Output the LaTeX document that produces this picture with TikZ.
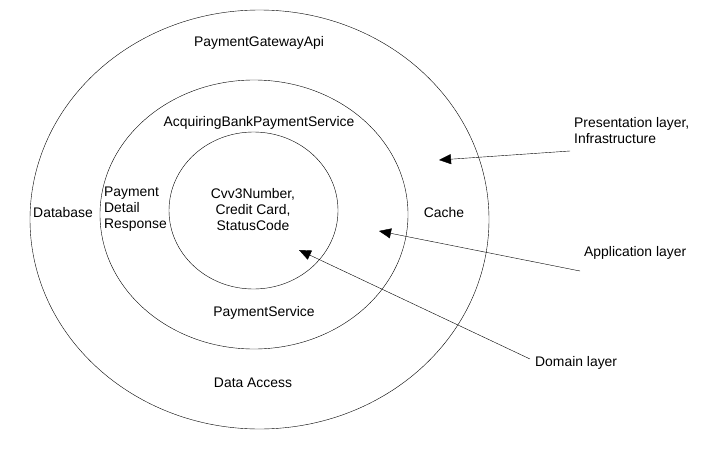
\documentclass[tikz,border=0pt]{standalone}
\usepackage{fontspec}
\setmainfont{Liberation Sans}
\usetikzlibrary{shapes.geometric,arrows.meta}

\tikzset{
  ring/.style={draw,ellipse,thin,inner sep=0pt},
  txt/.style={inner sep=0pt,align=center,font=\fontsize{13.9pt}{16pt}\selectfont},
  layer/.style={txt,align=left,anchor=west},
  pointer/.style={thin,-{Triangle[length=12pt,width=10pt]}}
}

\begin{document}
\begin{tikzpicture}[x=1pt,y=-1pt]
    \useasboundingbox (0,0) rectangle (706,452);
    % the three rings
    \node[ring,minimum width=459pt,minimum height=419pt] (outer) at (259.5,219.5) {};
    \node[ring,minimum width=308pt,minimum height=269pt] (middle) at (254,214.5) {};
    \node[ring,minimum width=169pt,minimum height=157pt] (inner) at (253.5,210.5) {};

    % texts inside the rings
    \node[txt] (api) at (259,43) {PaymentGatewayApi};
    \node[txt] (bank) at (259,123) {AcquiringBankPaymentService};
    \node[txt] (db) at (63,213) {Database};
    \node[txt] (cache) at (444,213) {Cache};
    \node[txt,align=left,anchor=west] (resp) at (104,209) {Payment\\Detail\\Response};
    \node[txt] (core) at (253,210) {Cvv3Number,\\Credit Card,\\StatusCode};
    \node[txt] (svc) at (264,313) {PaymentService};
    \node[txt] (access) at (253,383) {Data Access};

    % layer labels
    \node[layer] (pres) at (574,131) {Presentation layer,\\Infrastructure};
    \node[layer] (app) at (584,253) {Application layer};
    \node[layer] (dom) at (535,363) {Domain layer};

    \coordinate (pres tail) at (570,151);
    \coordinate (pres tip) at (439,160);
    \coordinate (app tail) at (580,271);
    \coordinate (app tip) at (379,231);
    \coordinate (dom tail) at (530,359);
    \coordinate (dom tip) at (299,250);

    \draw[pointer] (pres tail) -- (pres tip);
    \draw[pointer] (app tail) -- (app tip);
    \draw[pointer] (dom tail) -- (dom tip);
\end{tikzpicture}
\end{document}
